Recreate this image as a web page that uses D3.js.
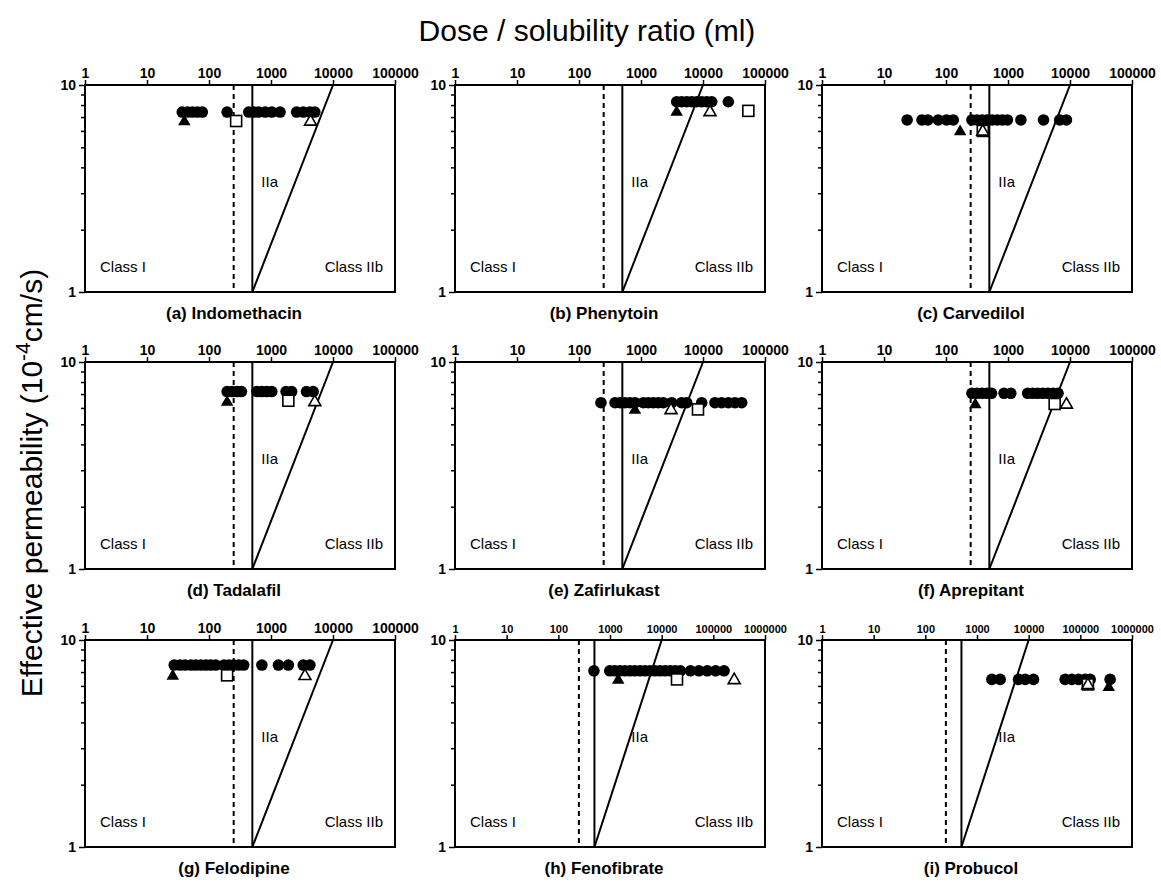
<!DOCTYPE html>
<html>
<head>
<meta charset="utf-8">
<script src="https://cdn.jsdelivr.net/npm/d3@7"></script>
<style>
  body { margin: 0; background: #fff; }
  svg { display: block; font-family: "Liberation Sans", Arial, sans-serif; }
</style>
</head>
<body>
<svg id="chart" width="1161" height="885"></svg>
<script>
// Drug panels, in reading order
const drugNames = ["Indomethacin", "Phenytoin", "Carvedilol", "Tadalafil", "Zafirlukast",
                   "Aprepitant", "Felodipine", "Fenofibrate", "Probucol"];
const panelLetters = ["a", "b", "c", "d", "e", "f", "g", "h", "i"];
// Number of decades on each panel's dose/solubility axis
const axisDecades = [5, 5, 5, 5, 5, 5, 5, 6, 6];
const tickLabels5 = ["1", "10", "100", "1000", "10000", "100000"];
const tickLabels6 = ["1", "10", "100", "1000", "10000", "100000", "1000000"];
const yTickLabels = ["1", "10"];

// Dose/solubility ratios (ml) of the filled circles, one array per drug
const indomethacinDots = [37, 45, 54, 65, 78, 196, 437, 525, 631, 807, 1030, 1400, 2590, 3311, 4236, 5093];
const phenytoinDots = [3760, 4530, 5460, 6570, 7910, 9530, 11480, 13820, 25600];
const carvedilolDots = [23.6, 41, 51, 75, 102, 131, 262, 316, 383, 460, 556, 671, 809, 977, 1615, 3740, 6830, 8770];
const tadalafilDots = [196, 236, 284, 333, 593, 713, 857, 1030, 1750, 2153, 3740, 4786];
const zafirlukastDots = [226, 381, 459, 552, 665, 800, 1090, 1312, 1580, 1900, 2290, 3126, 4530, 5460, 9530, 15600, 19970, 25650, 32800, 42100];
const aprepitantDots = [262, 316, 382, 460, 542, 863, 1110, 2075, 2505, 3020, 3650, 4400, 5310, 6410];
const felodipineDots = [27.5, 34, 41, 51, 61, 74, 89, 106, 128, 174, 209, 251, 302, 363, 713, 1318, 1905, 3311, 4236];
const fenofibrateDots = [489, 988, 1237, 1548, 1940, 2427, 3040, 3810, 4760, 5970, 7480, 9360, 11720, 14680, 18370, 23000, 36100, 52500, 76400, 111200, 161500];
const probucolDots = [1940, 2810, 6370, 8570, 12400, 50800, 68500, 92300, 124000, 155000, 377000];

// Effective permeability (1e-4 cm/s) shared by each drug's circles
const dotPermeability = [7.4, 8.3, 6.78, 7.2, 6.36, 7.06, 7.57, 7.1, 6.45];

// [ratio, permeability] of filled triangle, open square, open triangle per drug
const filledTriangles = [[40, 6.7], [3760, 7.45], [169, 6.0], [196, 6.45], [800, 5.9], [297, 6.27], [26, 6.75], [1440, 6.45], [355000, 5.95]];
const openSquares = [[274, 6.7], [53900, 7.5], [392, 6.0], [1905, 6.5], [8300, 5.9], [5660, 6.27], [196, 6.75], [19800, 6.45], [140000, 6.1]];
const openTriangles = [[4340, 6.7], [12970, 7.45], [392, 6.0], [5090, 6.45], [3050, 5.9], [8770, 6.27], [3525, 6.75], [253500, 6.45], [140000, 6.1]];

// Classification boundaries
const dashedBoundary = 250;
const solidBoundary = 500;
const slantedBoundary = [[500, 1], [10000, 10]];

const dotsByDrug = [indomethacinDots, phenytoinDots, carvedilolDots, tadalafilDots, zafirlukastDots,
                    aprepitantDots, felodipineDots, fenofibrateDots, probucolDots];

const svg = d3.select("#chart");

// Grid geometry
const colLeft = [85, 455, 822];
const rowTop = [85, 362, 640];
const panelW = 310;
const panelH = 207;

svg.append("text")
  .attr("x", 587).attr("y", 41)
  .attr("text-anchor", "middle")
  .attr("font-size", 30)
  .text("Dose / solubility ratio (ml)");

const yTitle = svg.append("text")
  .attr("transform", "translate(42,483) rotate(-90)")
  .attr("text-anchor", "middle")
  .attr("font-size", 30);
yTitle.append("tspan").text("Effective permeability (10");
yTitle.append("tspan").attr("dy", -12).attr("font-size", 21).text("-4");
yTitle.append("tspan").attr("dy", 12).text("cm/s)");

function trianglePath(cx, cy, s) {
  const h = s * 0.866;
  return `M${cx},${cy - h * 0.6}L${cx + s / 2},${cy + h * 0.4}L${cx - s / 2},${cy + h * 0.4}Z`;
}

// Reference scale used to place the "IIa" region label at the same spot in every panel
const labelScale = d3.scaleLog().domain([1, 1e5]).range([0, panelW]);

drugNames.forEach((name, i) => {
  const row = Math.floor(i / 3), col = i % 3;
  const left = colLeft[col], top = rowTop[row];
  const dec = axisDecades[i];
  const g = svg.append("g").attr("transform", `translate(${left},${top})`);

  const x = d3.scaleLog().domain([1, Math.pow(10, dec)]).range([0, panelW]);
  const y = d3.scaleLog().domain([1, 10]).range([panelH, 0]);

  // Top axis: decade ticks and labels
  const labels = dec === 5 ? tickLabels5 : tickLabels6;
  const topAxis = d3.axisTop(x)
    .tickValues(labels.map(Number))
    .tickFormat(d => String(d))
    .tickSize(5).tickPadding(2);
  const ta = g.append("g").call(topAxis);
  ta.select(".domain").remove();
  ta.selectAll("line").attr("stroke", "#000").attr("stroke-width", 1.5);
  ta.selectAll("text")
    .attr("font-family", "Liberation Sans, Arial, sans-serif")
    .attr("font-weight", "bold")
    .attr("font-size", dec === 5 ? 14 : 11)
    .attr("fill", "#000");

  // Left axis: log ticks 1..10, labelled at 1 and 10
  const leftAxis = d3.axisLeft(y)
    .tickValues(d3.range(1, 11))
    .tickFormat(d => yTickLabels.includes(String(d)) ? String(d) : "")
    .tickSize(0).tickPadding(9);
  const la = g.append("g").call(leftAxis);
  la.select(".domain").remove();
  la.selectAll("text")
    .attr("font-family", "Liberation Sans, Arial, sans-serif")
    .attr("font-weight", "bold")
    .attr("font-size", 14)
    .attr("fill", "#000");
  la.selectAll(".tick").append("line")
    .attr("x1", d => (d === 1 || d === 10) ? -6 : -4)
    .attr("x2", 0)
    .attr("stroke", "#000").attr("stroke-width", 1.5);

  // Frame
  g.append("rect")
    .attr("x", 0).attr("y", 0).attr("width", panelW).attr("height", panelH)
    .attr("fill", "none").attr("stroke", "#000").attr("stroke-width", 2);

  // Boundaries
  g.append("line")
    .attr("x1", x(dashedBoundary)).attr("x2", x(dashedBoundary))
    .attr("y1", 0).attr("y2", panelH)
    .attr("stroke", "#000").attr("stroke-width", 2).attr("stroke-dasharray", "5,4");
  g.append("line")
    .attr("x1", x(solidBoundary)).attr("x2", x(solidBoundary))
    .attr("y1", 0).attr("y2", panelH)
    .attr("stroke", "#000").attr("stroke-width", 2);
  g.append("path")
    .attr("d", d3.line().x(d => x(d[0])).y(d => y(d[1]))(slantedBoundary))
    .attr("fill", "none").attr("stroke", "#000").attr("stroke-width", 2);

  // Region labels
  g.append("text").attr("x", 15).attr("y", panelH - 20)
    .attr("font-size", 15).text("Class I");
  g.append("text").attr("x", panelW - 12).attr("y", panelH - 20)
    .attr("text-anchor", "end").attr("font-size", 15).text("Class IIb");
  g.append("text").attr("x", labelScale(solidBoundary) + 9).attr("y", y(3.2))
    .attr("font-size", 15).text("IIa");

  // Data markers
  const py = dotPermeability[i];
  g.selectAll("circle.dot").data(dotsByDrug[i]).enter().append("circle")
    .attr("class", "dot")
    .attr("cx", d => x(d)).attr("cy", y(py)).attr("r", 5.8)
    .attr("fill", "#000");

  const ft = filledTriangles[i];
  g.append("path").attr("d", trianglePath(x(ft[0]), y(ft[1]), 12.5)).attr("fill", "#000");
  const sq = openSquares[i];
  g.append("rect")
    .attr("x", x(sq[0]) - 5.5).attr("y", y(sq[1]) - 5.5)
    .attr("width", 11).attr("height", 11)
    .attr("fill", "#fff").attr("stroke", "#000").attr("stroke-width", 1.6);
  const ot = openTriangles[i];
  g.append("path").attr("d", trianglePath(x(ot[0]), y(ot[1]), 12))
    .attr("fill", "#fff").attr("stroke", "#000").attr("stroke-width", 1.6);

  // Panel title
  g.append("text")
    .attr("x", panelW / 2 - 6).attr("y", panelH + 27)
    .attr("text-anchor", "middle")
    .attr("font-size", 17).attr("font-weight", "bold")
    .text(`(${panelLetters[i]}) ${name}`);
});
</script>
</body>
</html>
